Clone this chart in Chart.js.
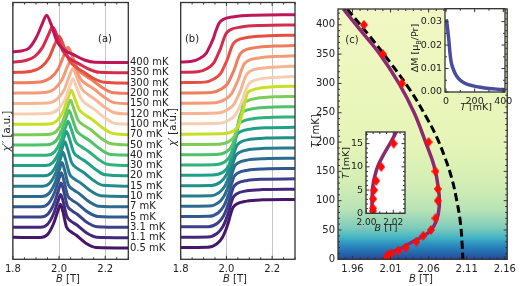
<!DOCTYPE html>
<html>
<head>
<meta charset="utf-8">
<script src="https://cdn.jsdelivr.net/npm/chart.js@4.4.1/dist/chart.umd.min.js"></script>
<style>
html, body { margin: 0; padding: 0; background: #fff; }
#wrap { position: relative; width: 520px; height: 286px; overflow: hidden; }
#wrap canvas { position: absolute; left: 0; top: 0; }
</style>
</head>
<body>
<div id="wrap">
  <canvas id="chartA" width="520" height="286"></canvas>
  <canvas id="chartB" width="520" height="286"></canvas>
  <canvas id="chartC" width="520" height="286"></canvas>
  <canvas id="insetDM" width="520" height="286"></canvas>
  <canvas id="insetLow" width="520" height="286"></canvas>
</div>
<script>
// ---------- data ----------
const temps = ['0.5', '1.1', '3.1', '5', '7', '10', '15', '20', '30', '40', '50', '70', '100', '120', '150', '200', '300', '350', '400'];
const curveColors = ['#46166a', '#42287c', '#3b408a', '#31588f', '#2c6b8e', '#267d8e', '#208e8b', '#21a086', '#2fb27b', '#50c26a',
                     '#7ccd57', '#c8de27', '#f8ceb3', '#f6b493', '#f49a76', '#f07d5b', '#e84d42', '#d42c4e', '#bf1658'];

// chi'' per temperature: [B (T), signal above own baseline]
const chi2 = [
  [[1.8,1.04],[1.92,1.01],[1.95,1.3],[1.975,2.3],[1.995,3.6],[2.006,4.24],[2.017,3.5],[2.032,2.05],[2.05,1.6],[2.075,1.23],[2.118,0.43],[2.16,0.05],[2.3,0]],
  [[1.8,1.02],[1.92,1.0],[1.95,1.3],[1.976,2.3],[1.996,3.6],[2.007,4.2],[2.018,3.5],[2.033,2.1],[2.051,1.62],[2.076,1.25],[2.12,0.45],[2.162,0.05],[2.3,0]],
  [[1.8,1.0],[1.92,1.0],[1.952,1.3],[1.978,2.3],[1.998,3.65],[2.009,4.3],[2.02,3.55],[2.036,2.1],[2.054,1.65],[2.079,1.27],[2.122,0.47],[2.165,0.06],[2.3,0]],
  [[1.8,1.0],[1.92,1.0],[1.953,1.3],[1.979,2.3],[1.999,3.65],[2.01,4.3],[2.021,3.55],[2.037,2.1],[2.056,1.65],[2.081,1.28],[2.125,0.48],[2.168,0.06],[2.3,0]],
  [[1.8,1.0],[1.925,1.0],[1.956,1.3],[1.982,2.3],[2.002,3.65],[2.013,4.3],[2.024,3.55],[2.04,2.15],[2.06,1.68],[2.086,1.3],[2.13,0.5],[2.172,0.06],[2.3,0]],
  [[1.8,1.0],[1.93,1.0],[1.96,1.3],[1.986,2.3],[2.006,3.65],[2.017,4.3],[2.028,3.6],[2.045,2.2],[2.066,1.7],[2.093,1.32],[2.138,0.52],[2.18,0.07],[2.3,0]],
  [[1.8,1.0],[1.935,1.0],[1.967,1.3],[1.993,2.3],[2.013,3.65],[2.025,4.3],[2.037,3.6],[2.055,2.25],[2.077,1.75],[2.105,1.35],[2.15,0.55],[2.19,0.08],[2.3,0]],
  [[1.8,1.0],[1.94,1.0],[1.973,1.3],[2.0,2.3],[2.02,3.65],[2.032,4.3],[2.045,3.6],[2.063,2.3],[2.087,1.8],[2.115,1.4],[2.16,0.6],[2.2,0.1],[2.3,0]],
  [[1.8,1.0],[1.945,1.0],[1.979,1.3],[2.006,2.3],[2.027,3.65],[2.039,4.3],[2.052,3.6],[2.071,2.35],[2.096,1.85],[2.125,1.42],[2.17,0.62],[2.21,0.12],[2.3,0]],
  [[1.8,1.0],[1.948,1.02],[1.983,1.32],[2.01,2.3],[2.031,3.7],[2.043,4.35],[2.056,3.65],[2.076,2.4],[2.101,1.88],[2.13,1.45],[2.175,0.65],[2.215,0.13],[2.3,0]],
  [[1.8,1.0],[1.952,1.02],[1.988,1.32],[2.016,2.3],[2.037,3.7],[2.049,4.35],[2.062,3.65],[2.082,2.42],[2.108,1.9],[2.138,1.47],[2.182,0.66],[2.222,0.14],[2.3,0]],
  [[1.8,1.0],[1.955,1.03],[1.991,1.35],[2.019,2.3],[2.04,3.65],[2.053,4.3],[2.066,3.65],[2.087,2.45],[2.113,1.92],[2.143,1.48],[2.188,0.68],[2.228,0.15],[2.3,0]],
  [[1.8,1.0],[1.955,1.05],[1.993,1.4],[2.024,2.35],[2.046,3.7],[2.06,4.4],[2.074,3.7],[2.095,2.5],[2.12,1.95],[2.15,1.5],[2.195,0.7],[2.235,0.15],[2.3,0]],
  [[1.8,1.02],[1.95,1.07],[1.99,1.42],[2.022,2.35],[2.045,3.7],[2.06,4.4],[2.075,3.7],[2.097,2.5],[2.122,1.95],[2.152,1.48],[2.197,0.68],[2.237,0.15],[2.3,0]],
  [[1.8,1.03],[1.94,1.1],[1.98,1.45],[2.013,2.35],[2.037,3.65],[2.053,4.3],[2.069,3.6],[2.092,2.45],[2.118,1.9],[2.15,1.45],[2.195,0.65],[2.235,0.13],[2.3,0]],
  [[1.8,1.03],[1.92,1.12],[1.962,1.5],[1.997,2.4],[2.022,3.75],[2.039,4.45],[2.056,3.7],[2.08,2.4],[2.108,1.8],[2.14,1.35],[2.185,0.6],[2.228,0.1],[2.3,0]],
  [[1.8,1.03],[1.88,1.15],[1.922,1.55],[1.956,2.45],[1.982,3.8],[2.0,4.55],[2.018,3.75],[2.042,2.3],[2.07,1.6],[2.105,1.1],[2.15,0.45],[2.195,0.08],[2.3,0]],
  [[1.8,1.03],[1.855,1.2],[1.895,1.6],[1.929,2.5],[1.955,3.75],[1.972,4.46],[1.99,3.7],[2.015,2.2],[2.045,1.4],[2.085,0.9],[2.13,0.35],[2.175,0.05],[2.3,0]],
  [[1.8,1.03],[1.84,1.15],[1.87,1.4],[1.903,2.5],[1.928,3.8],[1.946,4.6],[1.964,3.8],[1.99,2.1],[2.02,1.25],[2.06,0.8],[2.11,0.25],[2.155,0.03],[2.3,0]]
];

// chi' per temperature: [B (T), signal above own low-field baseline]
const chi1 = [
  [[1.8,0],[1.918,0.02],[1.958,0.35],[1.983,1.0],[1.998,1.75],[2.008,2.4],[2.018,3.2],[2.028,3.85],[2.043,4.2],[2.088,4.5],[2.158,4.62],[2.3,4.66]],
  [[1.8,0],[1.919,0.02],[1.959,0.35],[1.984,1.0],[1.999,1.75],[2.009,2.4],[2.019,3.2],[2.029,3.85],[2.044,4.2],[2.089,4.5],[2.159,4.62],[2.3,4.66]],
  [[1.8,0],[1.921,0.02],[1.961,0.35],[1.986,1.0],[2.001,1.75],[2.011,2.4],[2.021,3.2],[2.031,3.85],[2.046,4.2],[2.091,4.5],[2.161,4.62],[2.3,4.66]],
  [[1.8,0],[1.923,0.02],[1.963,0.35],[1.988,1.0],[2.003,1.75],[2.013,2.4],[2.023,3.2],[2.033,3.85],[2.048,4.2],[2.093,4.5],[2.163,4.62],[2.3,4.66]],
  [[1.8,0],[1.925,0.02],[1.965,0.35],[1.99,1.0],[2.005,1.75],[2.015,2.4],[2.025,3.2],[2.035,3.85],[2.05,4.2],[2.095,4.5],[2.165,4.62],[2.3,4.66]],
  [[1.8,0],[1.929,0.02],[1.969,0.35],[1.994,1.0],[2.009,1.75],[2.019,2.4],[2.029,3.2],[2.039,3.85],[2.054,4.2],[2.099,4.5],[2.169,4.62],[2.3,4.66]],
  [[1.8,0],[1.934,0.02],[1.974,0.35],[1.999,1.0],[2.014,1.75],[2.024,2.4],[2.034,3.2],[2.044,3.85],[2.059,4.2],[2.104,4.5],[2.174,4.62],[2.3,4.66]],
  [[1.8,0],[1.939,0.03],[1.984,0.3],[2.009,0.9],[2.021,1.7],[2.029,2.4],[2.037,3.2],[2.045,3.9],[2.059,4.2],[2.109,4.5],[2.179,4.62],[2.3,4.66]],
  [[1.8,0],[1.947,0.03],[1.992,0.3],[2.017,0.9],[2.029,1.7],[2.037,2.4],[2.045,3.2],[2.053,3.9],[2.067,4.2],[2.117,4.5],[2.187,4.62],[2.3,4.66]],
  [[1.8,0],[1.955,0.03],[2.0,0.3],[2.025,0.9],[2.037,1.7],[2.045,2.4],[2.053,3.2],[2.061,3.9],[2.075,4.2],[2.125,4.5],[2.195,4.62],[2.3,4.66]],
  [[1.8,0],[1.968,0.03],[2.013,0.3],[2.038,0.9],[2.05,1.7],[2.058,2.4],[2.066,3.2],[2.074,3.9],[2.088,4.2],[2.138,4.5],[2.208,4.62],[2.3,4.66]],
  [[1.8,0],[1.984,0.03],[2.029,0.3],[2.054,0.9],[2.066,1.7],[2.074,2.4],[2.082,3.2],[2.09,3.9],[2.104,4.2],[2.154,4.5],[2.224,4.62],[2.3,4.66]],
  [[1.8,0],[1.97,0.05],[2.01,0.35],[2.04,0.9],[2.058,1.7],[2.07,2.3],[2.082,3.1],[2.094,3.75],[2.11,4.1],[2.16,4.4],[2.25,4.55],[2.3,4.6]],
  [[1.8,0],[1.963,0.05],[2.003,0.35],[2.033,0.9],[2.051,1.7],[2.063,2.3],[2.075,3.1],[2.087,3.75],[2.103,4.1],[2.153,4.4],[2.243,4.55],[2.3,4.6]],
  [[1.8,0],[1.952,0.05],[1.992,0.35],[2.022,0.9],[2.04,1.7],[2.052,2.3],[2.064,3.1],[2.076,3.75],[2.092,4.1],[2.142,4.4],[2.232,4.55],[2.3,4.6]],
  [[1.8,0],[1.935,0.05],[1.975,0.35],[2.005,0.9],[2.023,1.7],[2.035,2.3],[2.047,3.1],[2.059,3.75],[2.075,4.1],[2.125,4.4],[2.215,4.55],[2.3,4.6]],
  [[1.8,0],[1.905,0.05],[1.945,0.35],[1.975,0.9],[1.993,1.7],[2.005,2.3],[2.017,3.1],[2.029,3.75],[2.045,4.1],[2.095,4.4],[2.185,4.55],[2.3,4.6]],
  [[1.8,0],[1.874,0.05],[1.914,0.35],[1.944,0.9],[1.962,1.7],[1.974,2.3],[1.986,3.1],[1.998,3.75],[2.014,4.1],[2.064,4.4],[2.154,4.55],[2.3,4.6]],
  [[1.8,0],[1.843,0.05],[1.883,0.35],[1.913,0.9],[1.931,1.7],[1.943,2.3],[1.955,3.1],[1.967,3.75],[1.983,4.1],[2.033,4.4],[2.123,4.55],[2.3,4.6]]
];

// phase diagram (c)
const diaT = [0.5, 1.1, 3.1, 5, 7, 10, 15, 20, 30, 40, 50, 70, 100, 120, 150, 200, 300, 350, 400];
const diaB = [2.0049, 2.0049, 2.005, 2.0057, 2.0073, 2.011, 2.0203, 2.03, 2.044, 2.053, 2.063, 2.069, 2.072, 2.072, 2.069, 2.06, 2.025, 2.0, 1.975];
const fitT = [0, 3, 5.5, 8, 10.5, 13, 15.5, 18, 21, 29, 37, 48, 65, 90, 120, 160, 200, 250, 300, 350, 390, 427];
const fitB = [2.004, 2.0042, 2.0046, 2.0062, 2.009, 2.0135, 2.0185, 2.023, 2.027, 2.038, 2.05, 2.062, 2.07, 2.074, 2.073, 2.067, 2.056, 2.041, 2.021, 1.996, 1.971, 1.948];
const dashT = [427, 380, 335, 288, 245, 210, 175, 140, 100, 60, 25, 0];
const dashB = [1.953, 1.983, 2.01, 2.036, 2.056, 2.07, 2.081, 2.09, 2.097, 2.102, 2.104, 2.105];

// inset: magnetization jump
const dmT = [2, 6, 12, 20, 28, 36, 48, 65, 85, 110, 145, 190, 240, 300, 360, 415];
const dmV = [0.031, 0.0295, 0.0265, 0.022, 0.0165, 0.0128, 0.0102, 0.0078, 0.0059, 0.0045, 0.0034, 0.0026, 0.002, 0.0015, 0.0012, 0.001];

// tick labels
const ticksAB = [1.8, 2.0, 2.2];
const ticksCx = [1.96, 2.01, 2.06, 2.11, 2.16];
const ticksCy = [0, 50, 100, 150, 200, 250, 300, 350, 400];
const ticksDMx = [0, 200, 400];
const ticksDMy = [0, 0.01, 0.02, 0.03];
const ticksLowX = [2.00, 2.02];
const ticksLowY = [0, 5, 10, 15];

// background colour map of panel (c), by temperature
const bgT = [0, 10, 24, 36, 54, 85, 125, 200, 427];
const bgColors = ['#27469b', '#2565aa', '#2a8bbe', '#40b1c3', '#80ccbb', '#b8e3b5', '#d2edb4', '#e6f5b7', '#f2f8c4'];

// ---------- helpers ----------
const FONT = "'DejaVu Sans', sans-serif";
const W = 520, H = 286;
Chart.defaults.font.family = FONT;
Chart.defaults.font.size = 10;
Chart.defaults.color = '#222';

function steps(a, b, s, skip) {
  const out = [];
  for (let v = a; v <= b + 1e-9; v += s) {
    const r = Math.round(v * 10000) / 10000;
    if (!skip.some(k => Math.abs(k - r) < 1e-6)) out.push(r);
  }
  return out;
}

// axis box size is forced so the plot area lands where the box says
function axis(min, max, ticks, digits, pos, size, show, grid, fsize) {
  return {
    type: 'linear', min: min, max: max, position: pos, display: show,
    afterBuildTicks: s => { s.ticks = ticks.map(v => ({ value: v })); },
    afterFit: s => { if (pos === 'bottom') s.height = size; else s.width = size; },
    border: { display: false },
    grid: grid ? { display: true, color: '#c6c6c6', lineWidth: 1, drawTicks: false } : { display: false, drawTicks: false },
    ticks: { padding: pos === 'bottom' ? 4 : 3, autoSkip: false, maxRotation: 0, color: '#222',
             font: { size: fsize || 10 }, callback: v => v.toFixed(digits) }
  };
}

function framePlugin(t) {
  return {
    id: 'frame',
    afterDatasetsDraw(chart) {
      const { ctx, chartArea: a } = chart;
      const x = chart.scales.x, y = chart.scales.y;
      ctx.save();
      ctx.strokeStyle = '#333';
      ctx.lineWidth = 1;
      ctx.beginPath();
      const mark = (vals, len, horiz) => (vals || []).forEach(v => {
        if (horiz) {
          const p = x.getPixelForValue(v);
          ctx.moveTo(p, a.bottom); ctx.lineTo(p, a.bottom - len);
          ctx.moveTo(p, a.top); ctx.lineTo(p, a.top + len);
        } else {
          const p = y.getPixelForValue(v);
          ctx.moveTo(a.left, p); ctx.lineTo(a.left + len, p);
          ctx.moveTo(a.right, p); ctx.lineTo(a.right - len, p);
        }
      });
      mark(t.xMajor, 3.5, true); mark(t.xMinor, 2, true);
      mark(t.yMajor, 3.5, false); mark(t.yMinor, 2, false);
      ctx.stroke();
      ctx.lineWidth = 1.3;
      ctx.strokeRect(a.left, a.top, a.right - a.left, a.bottom - a.top);
      ctx.restore();
    }
  };
}

function bgPlugin(fill) {
  return {
    id: 'bg',
    beforeDraw(chart) {
      const { ctx, chartArea: a } = chart;
      ctx.save();
      ctx.fillStyle = typeof fill === 'function' ? fill(chart) : fill;
      ctx.fillRect(a.left, a.top, a.right - a.left, a.bottom - a.top);
      ctx.restore();
    }
  };
}

// segs: [text, style] with style '' | 'i' | 'sub'
function rich(ctx, x, y, segs, size, rot, align) {
  ctx.save();
  ctx.translate(x, y);
  if (rot) ctx.rotate(rot);
  const f = s => (s === 'i' ? 'italic ' : '') + (s === 'sub' ? size * 0.7 : size) + 'px ' + FONT;
  let w = 0;
  segs.forEach(([t, s]) => { ctx.font = f(s); w += ctx.measureText(t).width; });
  let cx = align === 'left' ? 0 : -w / 2;
  ctx.textBaseline = 'middle';
  ctx.fillStyle = '#222';
  segs.forEach(([t, s]) => {
    ctx.font = f(s);
    ctx.fillText(t, cx, s === 'sub' ? size * 0.3 : 0);
    cx += ctx.measureText(t).width;
  });
  ctx.restore();
}

function textPlugin(draw) {
  return { id: 'txt', afterDraw(chart) { draw(chart, chart.ctx); } };
}

function diamond(w, h, color) {
  const c = document.createElement('canvas');
  c.width = w; c.height = h;
  const g = c.getContext('2d');
  g.fillStyle = color;
  g.beginPath();
  g.moveTo(w / 2, 0); g.lineTo(w, h / 2); g.lineTo(w / 2, h); g.lineTo(0, h / 2);
  g.closePath(); g.fill();
  return c;
}

// box = [left, top, right, bottom] of the plot area in page pixels
function makeChart(id, box, xs, ys, datasets, plugins) {
  return new Chart(document.getElementById(id), {
    type: 'scatter',
    data: { datasets: datasets },
    options: {
      responsive: false, animation: false, events: [], devicePixelRatio: 1,
      layout: { padding: { left: 0, top: box[1], right: W - box[2], bottom: 0 } },
      scales: { x: xs, y: ys },
      plugins: { legend: { display: false }, tooltip: { enabled: false } }
    },
    plugins: plugins
  });
}

const ROT = -Math.PI / 2;
const minorAB = steps(1.8, 2.3, 0.05, ticksAB);

// ---------- (a) chi'' ----------
const boxA = [12.9, 2.5, 128.3, 259.3];
const dsA = chi2.map((pts, i) => ({
  data: pts.map(p => ({ x: p[0], y: p[1] + i + 1.1 })),
  showLine: true, borderColor: curveColors[i], borderWidth: 3, pointRadius: 0,
  cubicInterpolationMode: 'monotone', order: chi2.length - i
}));
makeChart('chartA', boxA,
  axis(1.8, 2.3, ticksAB, 1, 'bottom', H - boxA[3], true, true),
  axis(0, 24.93, [], 0, 'left', boxA[0], false, false),
  dsA, [framePlugin({ xMajor: ticksAB, xMinor: minorAB }), textPlugin((chart, ctx) => {
    const y = chart.scales.y;
    temps.forEach((t, i) => rich(ctx, 130, y.getPixelForValue(i + 1.1), [[t + ' mK', '']], 10, 0, 'left'));
    rich(ctx, 7, 131, [['\u03c7', 'i'], ['\u2032\u2032 [a.u.]', '']], 10, ROT);
    rich(ctx, 68, 279, [['B', 'i'], [' [T]', '']], 10);
    rich(ctx, 105, 39, [['(a)', '']], 10);
  })]);

// ---------- (b) chi' ----------
const boxB = [180.7, 2.5, 295, 259.3];
const dsB = chi1.map((pts, i) => ({
  data: pts.map(p => ({ x: p[0], y: p[1] + i + 1.15 })),
  showLine: true, borderColor: curveColors[i], borderWidth: 3, pointRadius: 0,
  cubicInterpolationMode: 'monotone', order: chi1.length - i
}));
makeChart('chartB', boxB,
  axis(1.8, 2.3, ticksAB, 1, 'bottom', H - boxB[3], true, true),
  axis(0, 24.93, [], 0, 'left', boxB[0], false, false),
  dsB, [framePlugin({ xMajor: ticksAB, xMinor: minorAB }), textPlugin((chart, ctx) => {
    rich(ctx, 173.5, 127, [['\u03c7', 'i'], ['\u2032 [a.u.]', '']], 10, ROT);
    rich(ctx, 235, 279, [['B', 'i'], [' [T]', '']], 10);
    rich(ctx, 192, 39, [['(b)', '']], 10);
  })]);

// ---------- (c) phase diagram ----------
const boxC = [338, 2.5, 513.5, 259.3];
const redDiamond = diamond(8, 10, '#ff0a0a');
const dsC = [
  { data: diaT.map((t, i) => ({ x: diaB[i], y: t })), showLine: false, pointStyle: redDiamond, pointRadius: 4, order: 0 },
  { data: fitT.map((t, i) => ({ x: fitB[i], y: t })), showLine: true, borderColor: '#8c2a70', borderWidth: 3.5, pointRadius: 0, tension: 0.4, order: 1 },
  { data: dashT.map((t, i) => ({ x: dashB[i], y: t })), showLine: true, borderColor: '#000', borderWidth: 3, borderDash: [8, 4], pointRadius: 0, tension: 0.4, order: 2 }
];
makeChart('chartC', boxC,
  axis(1.941, 2.1632, ticksCx, 2, 'bottom', H - boxC[3], true, false),
  axis(0, 427, ticksCy, 0, 'left', boxC[0], true, false),
  dsC, [
    bgPlugin(chart => {
      const y = chart.scales.y;
      const g = chart.ctx.createLinearGradient(0, y.getPixelForValue(0), 0, y.getPixelForValue(427));
      bgT.forEach((t, i) => g.addColorStop(t / 427, bgColors[i]));
      return g;
    }),
    framePlugin({ xMajor: ticksCx, xMinor: steps(1.95, 2.16, 0.01, ticksCx), yMajor: ticksCy, yMinor: steps(10, 420, 10, ticksCy) }),
    textPlugin((chart, ctx) => {
      rich(ctx, 316, 131, [['T', 'i'], [' [mK]', '']], 10, ROT);
      rich(ctx, 421, 279, [['B', 'i'], [' [T]', '']], 10);
      rich(ctx, 352, 40, [['(c)', '']], 10);
    })
  ]);

// ---------- inset: Delta M(T) ----------
const boxDM = [445, 7, 505, 92];
makeChart('insetDM', boxDM,
  axis(-7, 412, ticksDMx, 0, 'bottom', H - boxDM[3], true, false, 9.5),
  axis(0, 0.0355, ticksDMy, 2, 'left', boxDM[0], true, false, 9.5),
  [{ data: dmT.map((t, i) => ({ x: t, y: dmV[i] })), showLine: true, borderColor: '#4a4c9c', borderWidth: 3.5, pointRadius: 0, cubicInterpolationMode: 'monotone' }],
  [
    bgPlugin('#fff'),
    framePlugin({ xMajor: ticksDMx, xMinor: [100, 300], yMajor: ticksDMy, yMinor: [0.005, 0.015, 0.025, 0.035] }),
    textPlugin((chart, ctx) => {
      rich(ctx, 416, 48, [['\u0394M [\u03bc', ''], ['B', 'sub'], ['/Pr]', '']], 9.5, ROT);
      rich(ctx, 476, 108, [['T', 'i'], [' [mK]', '']], 9.5);
    })
  ]);

// ---------- inset: low-T zoom ----------
const boxLow = [366, 132, 405, 213.3];
makeChart('insetLow', boxLow,
  axis(1.9997, 2.0287, ticksLowX, 2, 'bottom', H - boxLow[3], true, false, 9),
  axis(0, 17.5, ticksLowY, 0, 'left', boxLow[0], true, false, 9.5),
  [
    { data: diaT.map((t, i) => ({ x: diaB[i], y: t })), showLine: false, pointStyle: redDiamond, pointRadius: 4, order: 0 },
    { data: fitT.map((t, i) => ({ x: fitB[i], y: t })), showLine: true, borderColor: '#8c2a70', borderWidth: 3.5, pointRadius: 0, tension: 0.4, order: 1 }
  ],
  [
    bgPlugin('#fff'),
    framePlugin({ xMajor: ticksLowX, xMinor: [2.005, 2.01, 2.015, 2.025], yMajor: ticksLowY, yMinor: steps(1, 17, 1, ticksLowY) }),
    textPlugin((chart, ctx) => {
      rich(ctx, 347, 163, [['T', 'i'], [' [mK]', '']], 9.5, ROT);
      rich(ctx, 386, 229, [['B', 'i'], [' [T]', '']], 9.5);
    })
  ]);
</script>
</body>
</html>
